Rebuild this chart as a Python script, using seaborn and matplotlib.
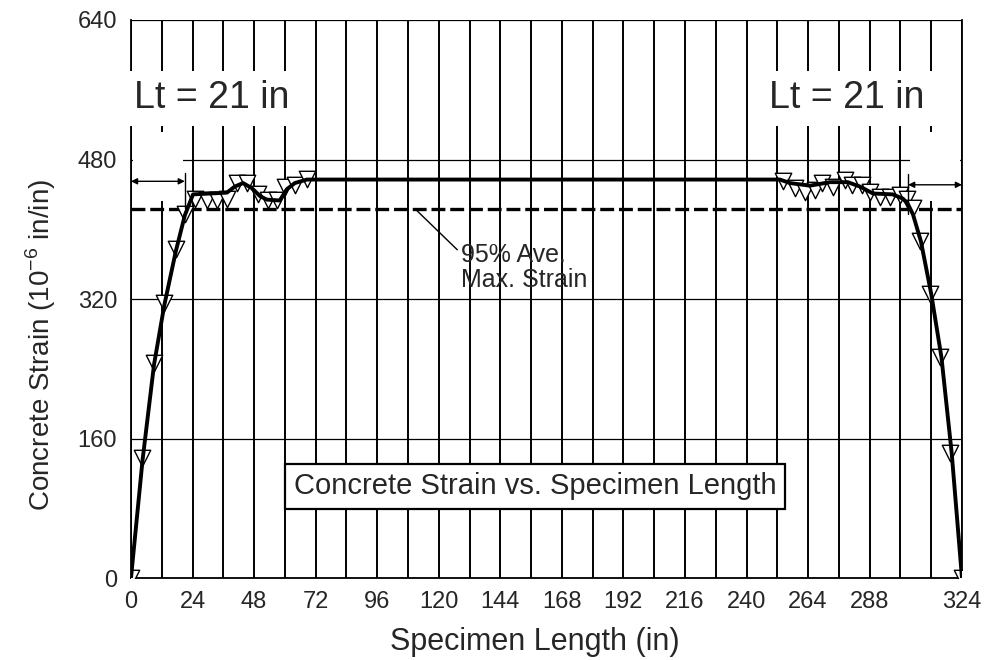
import numpy as np
import pandas as pd
import matplotlib
matplotlib.use('Agg')
import matplotlib.pyplot as plt
from matplotlib.patches import Rectangle
import seaborn as sns

# данные: показания датчиков (треугольники)
gauge_x = [0, 4.3, 9.0, 12.9, 17.5, 21.0, 25.0, 29.6, 33.5, 37.4, 41.3, 45.2, 49.5,
           53.4, 57.0, 60.0, 64.0, 68.6,
           254.2, 258.9, 262.8, 266.7, 269.6, 273.7, 278.4, 281.1, 285.0, 288.1,
           292.0, 295.9, 299.8, 302.5, 304.9, 307.6, 311.5, 315.4, 319.3, 324.0]
gauge_strain = [0, 138, 247, 315, 377, 417, 435, 433, 433, 435, 453, 453, 440,
                433, 433, 449, 451, 458,
                455, 447, 443, 445, 453, 449, 457, 451, 451, 443,
                437, 437, 439, 435, 424, 386, 326, 253, 143, 0]

# сглаженный профиль деформаций (толстая линия)
profile_x = [0, 4.5, 9, 13, 17.5, 21, 24.2, 37.4, 40.5, 43.7, 47.2, 50.3, 53, 58,
             60.8, 63.9, 68.6, 253, 256.9, 264.7, 272.5, 279.5, 284.2, 289.3, 297,
             301, 302.9, 304.9, 308, 312, 316, 320, 324]
profile_strain = [0, 135, 245, 313, 375, 416, 440, 442, 449, 453, 447, 438, 434, 433,
                  446, 453, 457, 457, 453, 450, 454, 454, 449, 441, 440,
                  435, 429, 417, 386, 326, 253, 143, 0]

# подписи оси x
x_ticks = [0, 24, 48, 72, 96, 120, 144, 168, 192, 216, 240, 264, 288, 324]
x_minor = [12, 36, 60, 84, 108, 132, 156, 180, 204, 228, 252, 276, 300, 312]
y_ticks = [0, 160, 320, 480, 640]

ave_max_strain = 445
span = 324
lt = 21

gauges = pd.DataFrame({'x': gauge_x, 'strain': gauge_strain})
profile = pd.DataFrame({'x': profile_x, 'strain': profile_strain})

# стиль
sns.set_style('white')
plt.rcParams['font.family'] = ['Liberation Sans', 'DejaVu Sans']
plt.rcParams['lines.scale_dashes'] = False

fig = plt.figure(figsize=(9.9, 6.6), dpi=100)
ax = fig.add_axes([0.1323, 0.1242, 0.8394, 0.8455])

ax.set_xlim(0, span)
ax.set_ylim(0, 640)
ax.set_xticks(x_ticks)
ax.set_xticks(x_minor, minor=True)
ax.set_yticks(y_ticks)
ax.set_axisbelow(True)
ax.grid(True, axis='x', which='both', color='black', lw=1.4)
ax.grid(True, axis='y', which='major', color='black', lw=0.9)

# белые области под надписями Lt
ax.add_patch(Rectangle((0.6, 432), lt - 1.2, 80, fc='white', ec='none', zorder=1))
ax.add_patch(Rectangle((span - lt + 0.6, 432), lt - 1.2, 80, fc='white', ec='none', zorder=1))

# 95% линия
ax.axhline(0.95 * ave_max_strain, color='black', lw=2.4, dashes=(10, 3.5), zorder=2)

# линии
sns.lineplot(data=profile, x='x', y='strain', color='black', lw=2.8, ax=ax,
             sort=False, zorder=4)
sns.scatterplot(data=gauges, x='x', y='strain', marker='v', s=140,
                facecolor='white', edgecolor='black', linewidth=1.0, ax=ax, zorder=3)

# Lt стрелки
arrow = dict(arrowstyle='<|-|>', color='black', lw=1.0, mutation_scale=9,
             shrinkA=0, shrinkB=0)
ax.annotate('', xy=(0, 455), xytext=(lt, 455), arrowprops=arrow, zorder=5)
ax.annotate('', xy=(span - lt, 451), xytext=(span, 451), arrowprops=arrow, zorder=5)
ax.plot([lt, lt], [424, 464], color='black', lw=1.0, zorder=5)
ax.plot([span - lt, span - lt], [418, 463], color='black', lw=1.0, zorder=5)

box = dict(boxstyle='square,pad=0.25', fc='white', ec='none')
ax.text(31.5, 550, 'Lt = 21 in', fontsize=27, ha='center', va='center', bbox=box)
ax.text(279, 550, 'Lt = 21 in', fontsize=27, ha='center', va='center', bbox=box)

ax.annotate('95% Ave.\nMax. Strain', xy=(111, 0.95 * ave_max_strain), xytext=(128.5, 356),
            fontsize=18, ha='left', va='center', linespacing=1.05,
            arrowprops=dict(arrowstyle='-', color='black', lw=1.0, shrinkA=0, shrinkB=0,
                            relpos=(0, 0.8)))

ax.text(157.5, 105, 'Concrete Strain vs. Specimen Length', fontsize=21, ha='center',
        va='center', bbox=dict(boxstyle='square,pad=0.3', fc='white', ec='black', lw=1.6))

ax.set_xlabel('Specimen Length (in)', fontsize=22)
ax.set_ylabel(r'Concrete Strain (10$^{\mathregular{-6}}$ in/in)', fontsize=20)
ax.xaxis.set_label_coords(0.486, -0.088)
ax.yaxis.set_label_coords(-0.088, 0.418)
ax.tick_params(axis='both', which='both', direction='out', length=8, width=1,
               labelsize=17, color='black')
ax.tick_params(axis='x', pad=1)
ax.tick_params(axis='y', pad=2)

for side in ['left', 'bottom', 'right']:
    ax.spines[side].set_color('black')
    ax.spines[side].set_linewidth(1.3)
ax.spines['top'].set_visible(False)

plt.savefig('out.png', dpi=100)
plt.close()
